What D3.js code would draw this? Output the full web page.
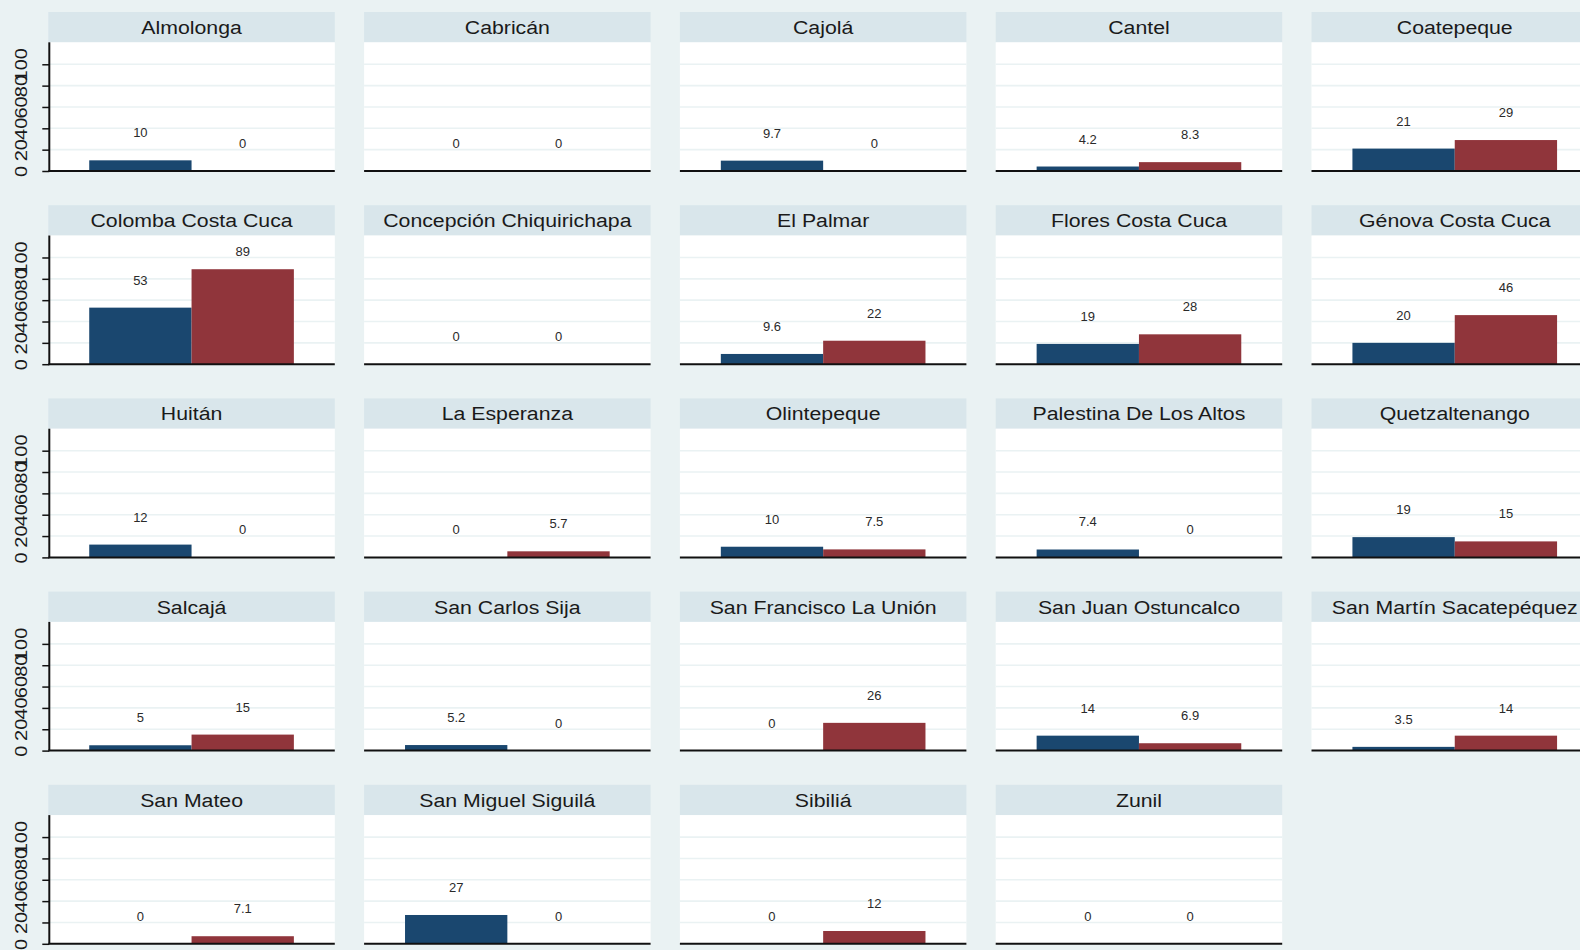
<!DOCTYPE html>
<html>
<head>
<meta charset="utf-8">
<script src="https://cdn.jsdelivr.net/npm/d3@7"></script>
<style>
  html, body { margin: 0; padding: 0; background: #eaf2f3; }
  svg { display: block; }
  text { font-family: "Liberation Sans", Arial, sans-serif; }
</style>
</head>
<body>
<svg id="chart" width="1580" height="950"></svg>
<script>
// Municipalities, one panel each (row-major order)
const municipios = [
  "Almolonga", "Cabricán", "Cajolá", "Cantel", "Coatepeque",
  "Colomba Costa Cuca", "Concepción Chiquirichapa", "El Palmar", "Flores Costa Cuca", "Génova Costa Cuca",
  "Huitán", "La Esperanza", "Olintepeque", "Palestina De Los Altos", "Quetzaltenango",
  "Salcajá", "San Carlos Sija", "San Francisco La Unión", "San Juan Ostuncalco", "San Martín Sacatepéquez",
  "San Mateo", "San Miguel Siguilá", "Sibiliá", "Zunil"
];
// First bar (navy) for each municipality
const serieA = [
  10, 0, 9.7, 4.2, 21,
  53, 0, 9.6, 19, 20,
  12, 0, 10, 7.4, 19,
  5, 5.2, 0, 14, 3.5,
  0, 27, 0, 0
];
// Second bar (maroon) for each municipality
const serieB = [
  0, 0, 0, 8.3, 29,
  89, 0, 22, 28, 46,
  0, 5.7, 7.5, 0, 15,
  15, 0, 26, 6.9, 14,
  7.1, 0, 12, 0
];
const seriesKeys = ["a", "b"];
const seriesColors = ["#1a476f", "#90353b"];
const yTicks = [0, 20, 40, 60, 80, 100];
const yMax = 120.6;

const svg = d3.select("#chart");
const W = 1580, H = 950;
svg.append("rect").attr("width", W).attr("height", H).attr("fill", "#eaf2f3");

const nCols = 5;
const colX0 = 48.3, colStep = 315.8, panelW = 286.5;
const rowY0 = 12, rowStep = 193.2, stripH = 30.3, plotH = 128.7;

const x = d3.scaleBand().domain(seriesKeys).range([0, panelW]).paddingInner(0).paddingOuter(0.4);
const y = d3.scaleLinear().domain([0, yMax]).range([plotH, 0]);
const fmt = v => (Number.isInteger(v) ? d3.format("d")(v) : d3.format(".1f")(v));

const panels = municipios.map((name, i) => ({
  name, i, col: i % nCols, row: Math.floor(i / nCols),
  values: [serieA[i], serieB[i]]
}));

const g = svg.selectAll("g.panel").data(panels).join("g")
  .attr("class", "panel")
  .attr("transform", d => `translate(${colX0 + d.col * colStep},${rowY0 + d.row * rowStep})`);

// strip header
g.append("rect").attr("x", 0).attr("y", 0).attr("width", panelW).attr("height", stripH)
  .attr("fill", "#d9e6eb");
g.append("text")
  .attr("transform", `translate(${panelW / 2},${stripH / 2 + 6.8}) scale(1.12,1)`)
  .attr("text-anchor", "middle")
  .attr("font-size", 19).attr("fill", "#1a1a1a")
  .text(d => d.name);

// plot region
const plot = g.append("g").attr("transform", `translate(0,${stripH})`);
plot.append("rect").attr("width", panelW).attr("height", plotH).attr("fill", "#ffffff");

// horizontal grid
plot.selectAll("line.grid").data(yTicks.filter(t => t > 0)).join("line")
  .attr("class", "grid")
  .attr("x1", 0).attr("x2", panelW)
  .attr("y1", t => y(t)).attr("y2", t => y(t))
  .attr("stroke", "#eaf2f3").attr("stroke-width", 1.6);

// bars
plot.selectAll("rect.bar")
  .data(d => d.values.map((v, k) => ({ key: seriesKeys[k], v, k })))
  .join("rect")
  .attr("class", "bar")
  .attr("x", d => x(d.key)).attr("width", x.bandwidth())
  .attr("y", d => y(d.v)).attr("height", d => plotH - y(d.v))
  .attr("fill", d => seriesColors[d.k]);

// bar value labels
plot.selectAll("text.val")
  .data(d => d.values.map((v, k) => ({ key: seriesKeys[k], v, k })))
  .join("text")
  .attr("class", "val")
  .attr("x", d => x(d.key) + x.bandwidth() / 2)
  .attr("y", d => Math.max(y(d.v) - 27.5, 15.5) + 4.5)
  .attr("text-anchor", "middle")
  .attr("font-size", 13)
  .style("font-family", '"Liberation Sans Narrow", "Liberation Sans", Arial, sans-serif')
  .attr("fill", "#2a2a2a")
  .text(d => fmt(d.v));

// x axis baseline
plot.append("line")
  .attr("x1", 0).attr("x2", panelW)
  .attr("y1", plotH).attr("y2", plotH)
  .attr("stroke", "#111").attr("stroke-width", 2);

// y axis only on the first column
const yAxisG = plot.filter(d => d.col === 0).append("g")
  .attr("transform", "translate(1,0)")
  .call(d3.axisLeft(y).tickValues(yTicks).tickSize(7).tickSizeOuter(0).tickFormat(d3.format("d")));
yAxisG.select(".domain").remove();
yAxisG.append("line").attr("x1", 0).attr("x2", 0).attr("y1", 0).attr("y2", plotH)
  .attr("stroke", "#111").attr("stroke-width", 2);
yAxisG.selectAll(".tick line").attr("stroke", "#111").attr("stroke-width", 1.5);
yAxisG.selectAll(".tick text")
  .attr("transform", "rotate(-90) scale(1.18,1)")
  .attr("x", 0).attr("y", -22).attr("dy", null)
  .attr("text-anchor", "middle")
  .attr("font-size", 17).attr("fill", "#1a1a1a")
  .style("font-family", '"Liberation Sans", Arial, sans-serif');
</script>
</body>
</html>
